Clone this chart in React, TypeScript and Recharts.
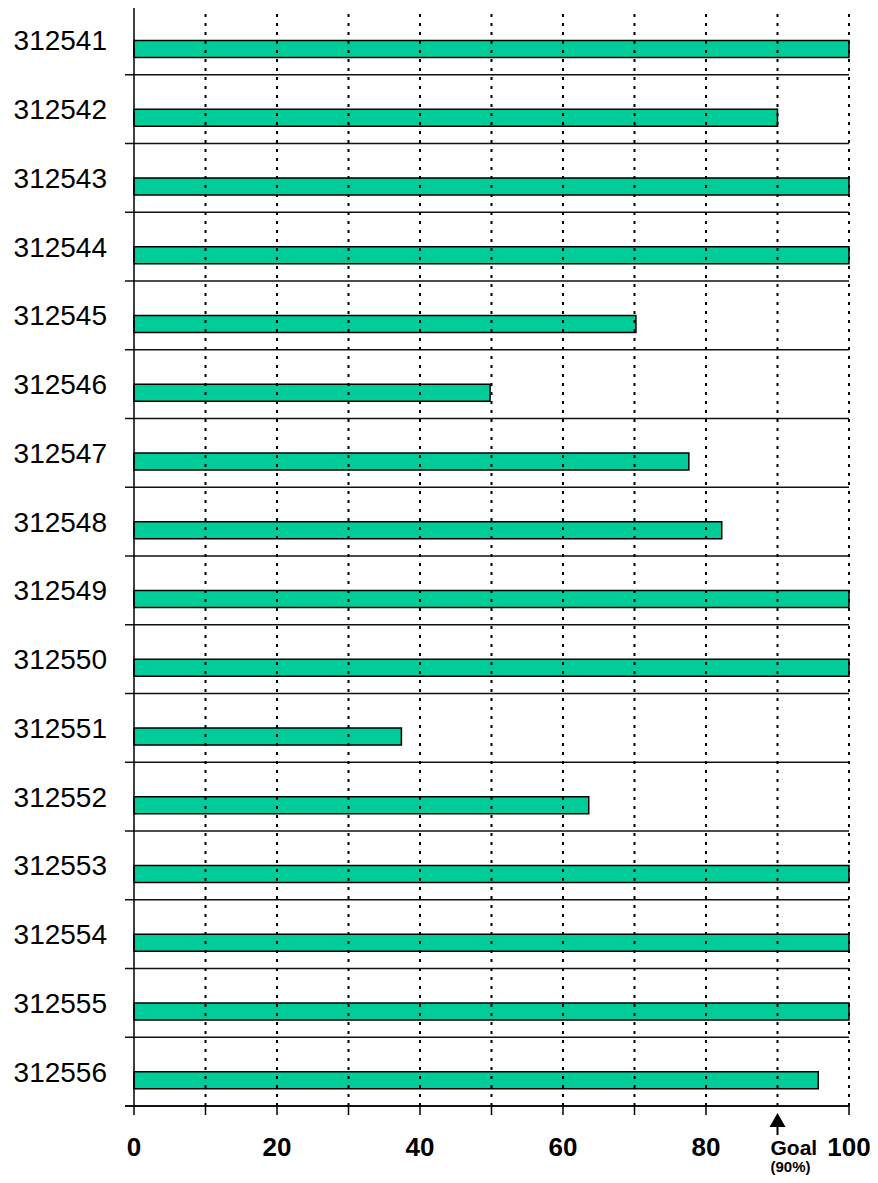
import { BarChart, Bar, XAxis, YAxis, CartesianGrid, ReferenceLine, Rectangle } from "recharts";

// Item ids down the left side, top to bottom.
const ids = [
  "312541", "312542", "312543", "312544", "312545", "312546", "312547", "312548",
  "312549", "312550", "312551", "312552", "312553", "312554", "312555", "312556",
];
// Percent score per item.
const scores = [100, 90, 100, 100, 70.2, 49.8, 77.6, 82.2, 100, 100, 37.4, 63.6, 100, 100, 100, 95.7];
const xTicks = [0, 10, 20, 30, 40, 50, 60, 70, 80, 90, 100];
const goal = 90;

const data = ids.map((id, i) => ({ id, score: scores[i] }));

const FONT = "Arial, 'Liberation Sans', sans-serif";

function YTick({ x, y, payload }: any) {
  return (
    <text x={x - 18} y={y} dy="0.36em" textAnchor="end" fontFamily={FONT} fontSize={28} fill="#000">
      {payload.value}
    </text>
  );
}

function XTick({ x, y, payload }: any) {
  const v = payload.value;
  if (v === goal) {
    return (
      <g>
        <polygon points={`${x},${y + 7} ${x - 8},${y + 21} ${x + 8},${y + 21}`} fill="#000" />
        <line x1={x} y1={y + 21} x2={x} y2={y + 29} stroke="#000" strokeWidth={2} />
        <text x={x - 7} y={y + 49} fontFamily={FONT} fontSize={21} fontWeight="bold" fill="#000">Goal</text>
        <text x={x - 7} y={y + 66} fontFamily={FONT} fontSize={15} fontWeight="bold" fill="#000">({goal}%)</text>
      </g>
    );
  }
  return (
    <g>
      <line x1={x} y1={y} x2={x} y2={y + 9} stroke="#000" strokeWidth={1.5} />
      {v % 20 === 0 && (
        <text x={x} y={y + 50} textAnchor="middle" fontFamily={FONT} fontSize={26} fontWeight="bold" fill="#000">
          {v}
        </text>
      )}
    </g>
  );
}

// bars sit in the lower half of each row
function LowBar(p: any) {
  return (
    <Rectangle x={p.x} y={p.y + p.height / 2} width={p.width} height={p.height} fill="#00CC99" stroke="#000" strokeWidth={1.5} />
  );
}

export default function App() {
  return (
    <div style={{ marginTop: -8, marginLeft: -8 }}>
      <BarChart width={878} height={1183} data={data} layout="vertical" margin={{ top: 6, right: 29, bottom: 0, left: 0 }}>
        <CartesianGrid
          vertical={false}
          stroke="#111"
          strokeWidth={1.5}
          horizontalCoordinatesGenerator={({ offset }: any) =>
            ids.map((_, i) => offset.top + (i * offset.height) / ids.length).concat(offset.top + offset.height)
          }
        />
        {xTicks
          .filter((v) => v > 0)
          .map((v) => (
            <ReferenceLine key={v} x={v} stroke="#000" strokeWidth={2} strokeDasharray="3 6" />
          ))}
        <XAxis
          type="number"
          domain={[0, 100]}
          ticks={xTicks}
          interval={0}
          padding={{ left: 9, right: 0 }}
          height={77}
          tickSize={0}
          tickMargin={0}
          tickLine={false}
          axisLine={{ stroke: "#000", strokeWidth: 1.5 }}
          tick={<XTick />}
        />
        <YAxis
          type="category"
          dataKey="id"
          width={125}
          interval={0}
          tickSize={0}
          tickMargin={0}
          axisLine={false}
          tickLine={false}
          tick={<YTick />}
        />
        <ReferenceLine x={0} stroke="#000" strokeWidth={1.5} />
        <Bar dataKey="score" barSize={17} shape={<LowBar />} isAnimationActive={false} />
      </BarChart>
    </div>
  );
}
